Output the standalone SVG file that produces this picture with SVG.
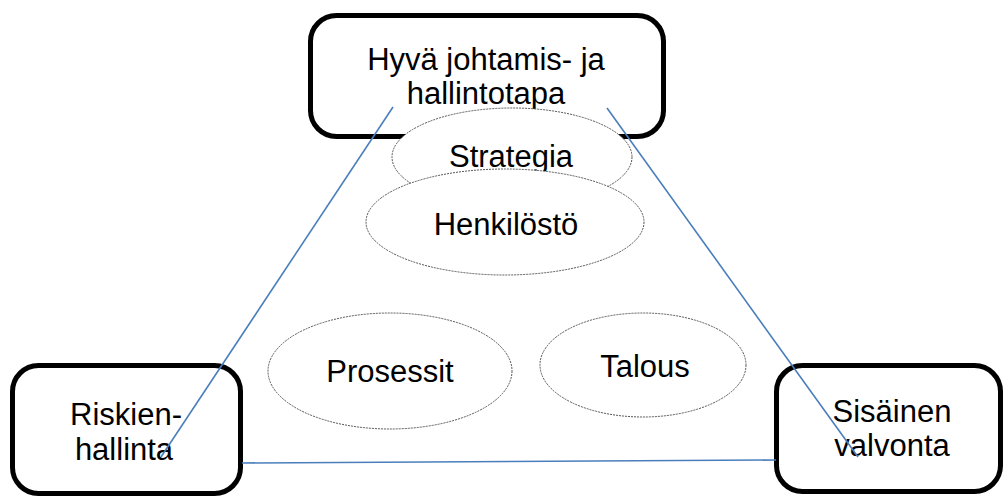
<svg xmlns="http://www.w3.org/2000/svg" width="1003" height="497" viewBox="0 0 1003 497">
<style>
.box{fill:#fff;stroke:#000;stroke-width:5}
.ell{fill:#fff;stroke:#555;stroke-width:1;stroke-dasharray:2 1}
.t{font-family:"Liberation Sans",Arial,sans-serif;font-size:31px;fill:#000;text-anchor:middle}
.con{stroke:#4A7EBB;stroke-width:1.6;fill:none}
</style>
<rect width="1003" height="497" fill="#fff"/>
<g id="hallinto">
<rect class="box" x="310.500" y="15.500" width="353" height="121" rx="26"/>
<text class="t" x="486" y="70">Hyvä johtamis- ja</text>
<text class="t" x="486" y="104">hallintotapa</text>
</g>
<g id="strategia">
<ellipse class="ell" cx="512" cy="157" rx="120" ry="49"/>
<text class="t" x="511" y="167">Strategia</text>
</g>
<g id="henkilosto">
<ellipse class="ell" cx="505" cy="222" rx="139" ry="53"/>
<text class="t" x="506" y="235">Henkilöstö</text>
</g>
<g id="prosessit">
<ellipse class="ell" cx="390" cy="371" rx="122" ry="58"/>
<text class="t" x="390" y="382">Prosessit</text>
</g>
<g id="talous">
<ellipse class="ell" cx="643" cy="365" rx="103" ry="52"/>
<text class="t" x="645" y="377">Talous</text>
</g>
<g id="riskienhallinta">
<rect class="box" x="12.500" y="365.500" width="228" height="128" rx="26"/>
<text class="t" x="126" y="425">Riskien-</text>
<text class="t" x="124" y="460">hallinta</text>
</g>
<g id="sisainen">
<rect class="box" x="776.500" y="365.500" width="224" height="126" rx="26"/>
<text class="t" x="892" y="422">Sisäinen</text>
<text class="t" x="892" y="456">valvonta</text>
</g>
<g id="connectors">
<line class="con" x1="393" y1="107" x2="161" y2="457"/>
<line class="con" x1="607" y1="108" x2="858" y2="457"/>
<line class="con" x1="242" y1="463" x2="776" y2="460"/>
</g>
</svg>
